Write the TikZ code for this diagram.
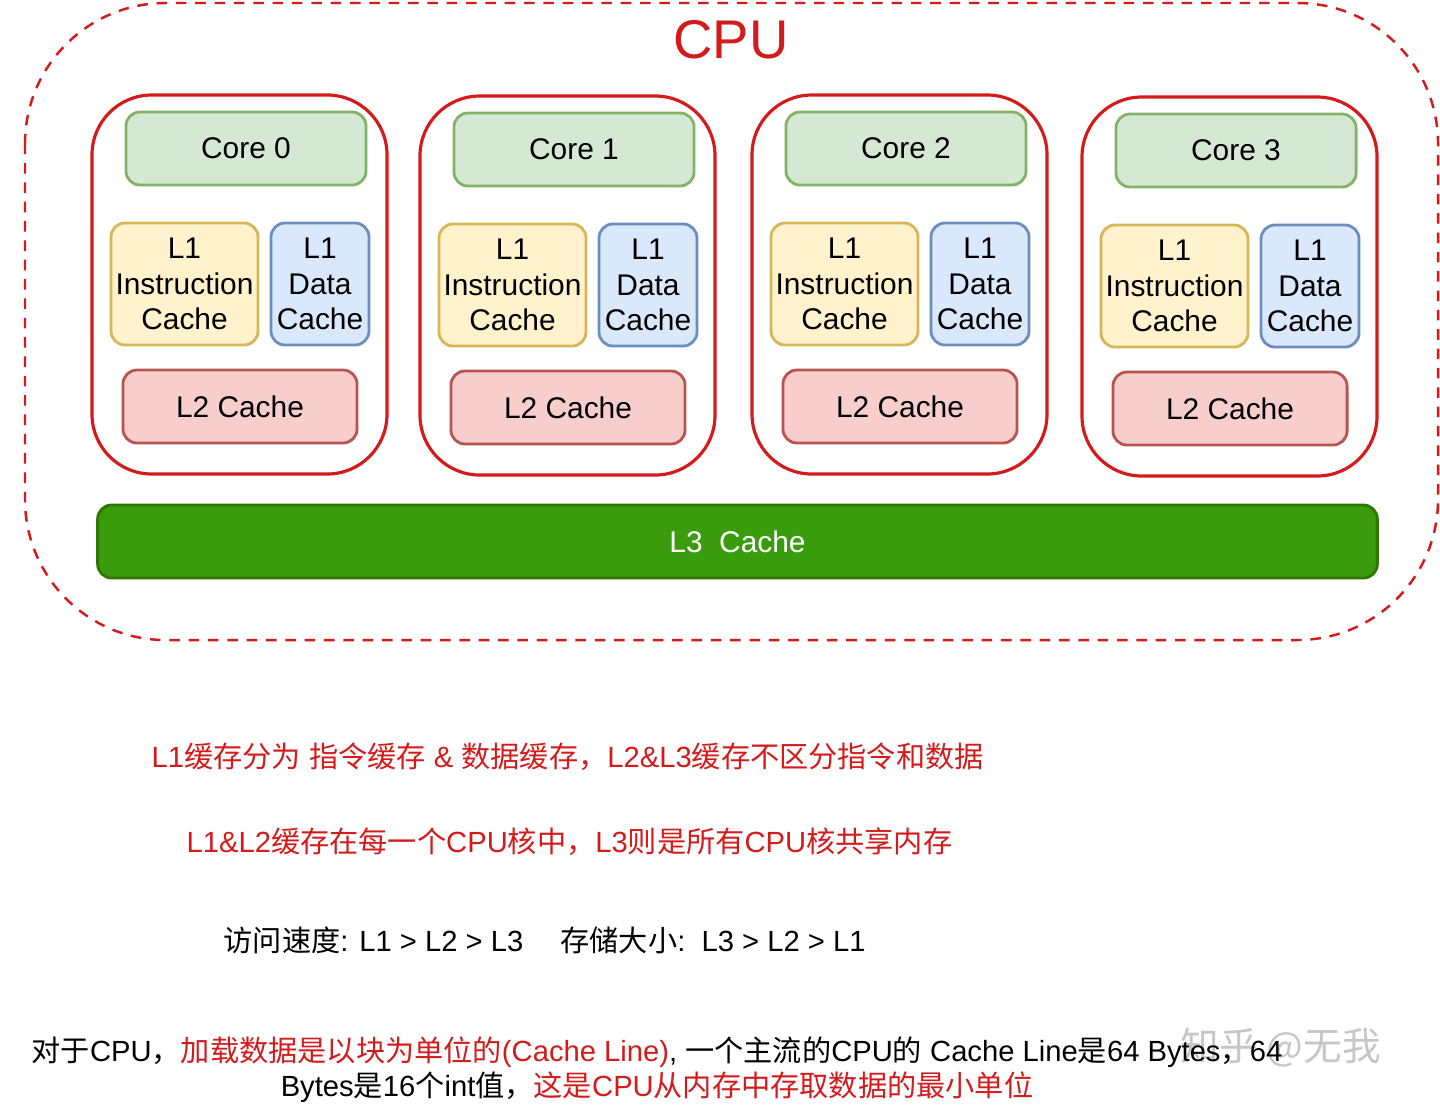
\documentclass[tikz,border=0pt]{standalone}
\usepackage{fontspec}
\setmainfont{Liberation Sans}
\newfontfamily\cjk{Noto Sans CJK SC}
\usepackage{xcolor}
\definecolor{cpured}{HTML}{D41A1A}
\definecolor{coreg}{HTML}{D5E8D4}\definecolor{coregd}{HTML}{82B366}
\definecolor{l1y}{HTML}{FFF2CC}\definecolor{l1yd}{HTML}{D6B656}
\definecolor{l1b}{HTML}{DAE8FC}\definecolor{l1bd}{HTML}{6C8EBF}
\definecolor{l2r}{HTML}{F8CECC}\definecolor{l2rd}{HTML}{B85450}
\definecolor{l3g}{HTML}{3A9C0C}\definecolor{l3gd}{HTML}{2D7600}
\newcommand{\zh}[1]{{\cjk #1}}
\tikzset{
  box/.style={draw, line width=0.8pt, rounded corners=4pt, align=center, inner sep=0pt,
    font=\fontsize{8.5}{10}\selectfont},
  note/.style={anchor=west, inner sep=0pt, font=\fontsize{8.3}{10}\selectfont}
}
\begin{document}
\begin{tikzpicture}[x=0.01cm, y=-0.01cm]
  \useasboundingbox (0,0) rectangle (1440,1108);
  %% outer CPU
  \draw[cpured, line width=0.7pt, dash pattern=on 3pt off 2.5pt, rounded corners=40pt] (25,3) rectangle (1438,640);
  \node[cpured, font=\fontsize{15.5}{18}\selectfont] (cpu) at (731,40) {CPU};
  %% cores
  \foreach \i/\x/\dy in {0/92/0, 1/420/1, 2/752/0, 3/1082/2} {
    \begin{scope}[shift={(\x,\dy)}]
      \draw[cpured, line width=0.9pt, rounded corners=17pt] (0,95) rectangle (295,474);
      \node[box, fill=coreg, draw=coregd, minimum width=2.4cm, minimum height=0.73cm] (core\i) at (154,148.5) {Core \i};
      \node[box, fill=l1y, draw=l1yd, minimum width=1.47cm, minimum height=1.22cm] (li\i) at (92.5,284) {L1\\Instruction\\Cache};
      \node[box, fill=l1b, draw=l1bd, minimum width=0.98cm, minimum height=1.22cm] (ld\i) at (228,284) {L1\\Data\\Cache};
      \node[box, fill=l2r, draw=l2rd, minimum width=2.34cm, minimum height=0.73cm] (ltwo\i) at (148,406.5) {L2 Cache};
    \end{scope}
  }
  %% shared L3
  \node[box, fill=l3g, draw=l3gd, text=white, minimum width=12.79cm, minimum height=0.73cm] (lthree) at (737.5,541.5) {L3\ \ Cache};
  %% notes
  \node[note, text=gray!45, font=\cjk\fontsize{11}{12}\selectfont] (wm) at (1180,1048) {知乎 @无我};
  \node[note, cpured] (n1) at (151,757) {L1\zh{缓存分为} \zh{指令缓存} \& \zh{数据缓存，}L2\&L3\zh{缓存不区分指令和数据}};
  \node[note, cpured] (n2) at (186,842) {L1\&L2\zh{缓存在每一个}CPU\zh{核中，}L3\zh{则是所有}CPU\zh{核共享内存}};
  \node[note] (n3) at (223,940) {\zh{访问速度}: L1 > L2 > L3\quad\ \zh{存储大小}:\ \ L3 > L2 > L1};
  \node[note, anchor=center, align=center] (n4) at (657,1070)
    {\zh{对于}CPU\zh{，}\textcolor{cpured}{\zh{加载数据是以块为单位的}(Cache Line)}, \zh{一个主流的}CPU\zh{的} Cache Line\zh{是}64 Bytes\zh{，}64\\
     Bytes\zh{是}16\zh{个}int\zh{值，}\textcolor{cpured}{\zh{这是}CPU\zh{从内存中存取数据的最小单位}}};
\end{tikzpicture}
\end{document}
